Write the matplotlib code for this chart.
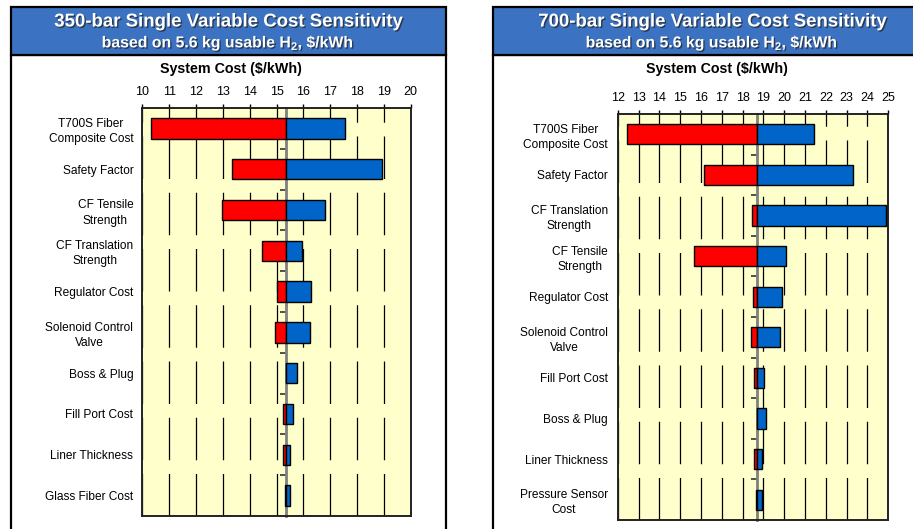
import matplotlib
matplotlib.use("Agg")
from matplotlib import pyplot as plt
from matplotlib.patches import Rectangle
import matplotlib.patheffects as pe

# 数据
labels_350 = ["T700S Fiber\nComposite Cost", "Safety Factor", "CF Tensile\nStrength",
              "CF Translation\nStrength", "Regulator Cost", "Solenoid Control\nValve",
              "Boss & Plug", "Fill Port Cost", "Liner Thickness", "Glass Fiber Cost"]
low_350 = [10.31, 13.35, 12.98, 14.47, 15.02, 14.96, 15.34, 15.25, 15.24, 15.30]
high_350 = [17.55, 18.92, 16.81, 15.94, 16.30, 16.25, 15.78, 15.60, 15.51, 15.51]
base_350 = 15.34
ticks_350 = list(range(10, 21))

labels_700 = ["T700S Fiber\nComposite Cost", "Safety Factor", "CF Translation\nStrength",
              "CF Tensile\nStrength", "Regulator Cost", "Solenoid Control\nValve",
              "Fill Port Cost", "Boss & Plug", "Liner Thickness", "Pressure Sensor\nCost"]
low_700 = [12.46, 16.16, 18.47, 15.68, 18.49, 18.41, 18.56, 18.71, 18.56, 18.63]
high_700 = [21.41, 23.32, 24.90, 20.08, 19.91, 19.80, 19.01, 19.12, 18.93, 18.92]
base_700 = 18.71
ticks_700 = list(range(12, 26))

# 字体
plt.rcParams['font.family'] = ['Liberation Sans', 'DejaVu Sans']
plt.rcParams['mathtext.fontset'] = 'custom'
plt.rcParams['mathtext.bf'] = 'Liberation Sans:bold'
plt.rcParams['mathtext.rm'] = 'Liberation Sans:bold'

W, H = 913, 529
fig = plt.figure(figsize=(W / 100, H / 100), dpi=100)
fig.patch.set_facecolor("white")

BAND = "#3B73C2"
RED = "#FF0000"
BLUE = "#0064C8"
YELLOW = "#FFFFCC"


def fx(x):
    return x / W


def fy(y):
    return 1 - y / H


def panel(x0, x1, title):
    # 外框和标题栏
    fig.add_artist(Rectangle((fx(x0), fy(540)), fx(x1) - fx(x0), fy(55) - fy(540),
                             transform=fig.transFigure, facecolor="white",
                             edgecolor="black", linewidth=1.6, zorder=0))
    fig.add_artist(Rectangle((fx(x0), fy(55)), fx(x1) - fx(x0), fy(7) - fy(55),
                             transform=fig.transFigure, facecolor=BAND,
                             edgecolor="black", linewidth=1.6, zorder=1))
    shadow = [pe.SimplePatchShadow(offset=(1, -1), shadow_rgbFace="#222222", alpha=0.7),
              pe.Normal()]
    xc = fx((x0 + x1) / 2)
    fig.text(xc, fy(22), title, ha="center", va="center", color="white",
             fontsize=13.4, fontweight="bold", path_effects=shadow)
    fig.text(xc, fy(43), r"based on 5.6 kg usable H$_\mathbf{2}$, \$/kWh", ha="center",
             va="center", color="white", fontsize=11.4, fontweight="bold",
             path_effects=shadow)


def tornado(rect, labels, low, high, base, ticks, title_x, lab_pad):
    l, r, t, b = rect
    ax = fig.add_axes([fx(l), fy(b), fx(r) - fx(l), fy(t) - fy(b)])
    ax.set_facecolor(YELLOW)
    pos = list(range(len(labels)))
    ax.barh(pos, [base - v for v in low], left=low, height=0.5,
            color=RED, edgecolor="black", linewidth=1, zorder=3)
    ax.barh(pos, [v - base for v in high], left=base, height=0.5,
            color=BLUE, edgecolor="black", linewidth=1, zorder=3)
    ax.set_xlim(ticks[0], ticks[-1])
    ax.set_ylim(len(labels) - 0.5, -0.5)

    ax.xaxis.tick_top()
    ax.set_xticks(ticks)
    ax.tick_params(axis="x", direction="out", length=3, width=1, pad=4, labelsize=9)
    ax.grid(axis="x", color="black", linewidth=0.9, linestyle=(0, (34, 11)), zorder=1)

    ax.set_yticks(pos)
    ax.set_yticklabels(labels, ha="right", multialignment="center", fontsize=8.6,
                       linespacing=1.35)
    ax.tick_params(axis="y", length=0, pad=lab_pad)
    for s in ax.spines.values():
        s.set_linewidth(1.4)
        s.set_color("#222222")

    # 中心基准线及分隔刻度
    loc = (base - ticks[0]) / (ticks[-1] - ticks[0])
    sec = ax.secondary_yaxis(loc)
    sec.set_yticks([p + 0.5 for p in pos[:-1]])
    sec.set_yticklabels([])
    sec.tick_params(axis="y", which="both", left=True, right=False,
                    labelleft=False, labelright=False, direction="out",
                    length=4, width=1.2, color="#333333")
    for side in ("left", "right"):
        sec.spines[side].set_color("#808080")
        sec.spines[side].set_linewidth(2)

    fig.text(fx(title_x), fy(69), "System Cost ($/kWh)", ha="center", va="center",
             fontsize=10.3, fontweight="bold")
    return ax


panel(10.7, 445.7, "350-bar Single Variable Cost Sensitivity")
panel(493.3, 931, "700-bar Single Variable Cost Sensitivity")

ax1 = tornado((142.3, 410.7, 108, 516), labels_350, low_350, high_350, base_350,
              ticks_350, 231, 6.5)
ax2 = tornado((617.7, 888.3, 114, 520), labels_700, low_700, high_700, base_700,
              ticks_700, 717, 7)

plt.savefig("out.png", dpi=100)
